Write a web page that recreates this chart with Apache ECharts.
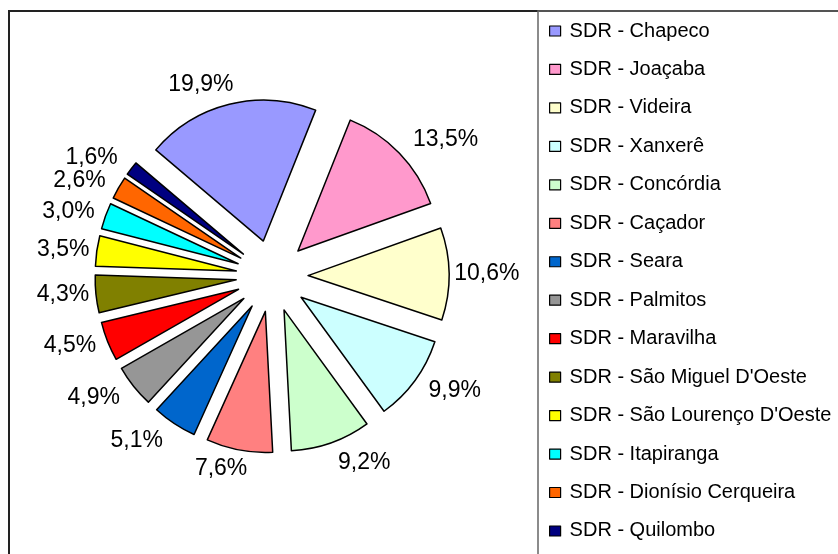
<!DOCTYPE html>
<html>
<head>
<meta charset="utf-8">
<script src="https://cdn.jsdelivr.net/npm/echarts@6/dist/echarts.min.js"></script>
<style>
  html, body { margin: 0; padding: 0; background: #fff; }
  #chart { width: 838px; height: 554px; }
</style>
</head>
<body>
<div id="chart"></div>
<script>
const categories = ['SDR - Chapeco', 'SDR - Joaçaba', 'SDR - Videira', 'SDR - Xanxerê', 'SDR - Concórdia',
  'SDR - Caçador', 'SDR - Seara', 'SDR - Palmitos', 'SDR - Maravilha', 'SDR - São Miguel D\'Oeste',
  'SDR - São Lourenço D\'Oeste', 'SDR - Itapiranga', 'SDR - Dionísio Cerqueira', 'SDR - Quilombo']
const shares = [19.9, 13.5, 10.6, 9.9, 9.2, 7.6, 5.1, 4.9, 4.5, 4.3, 3.5, 3.0, 2.6, 1.6]
const sliceColors = ['#9999ff', '#ff99cc', '#ffffcc', '#ccffff', '#ccffcc', '#ff8080', '#0066cc',
  '#969696', '#ff0000', '#808000', '#ffff00', '#00ffff', '#ff6600', '#000080']

const cx = 272
const cy = 276
const radius = 141
const explode = 36
const firstAngle = -49.7 // degrees clockwise from 12 o'clock
const total = shares.reduce((a, b) => a + b, 0)

const fontFamily = 'Liberation Sans, Arial, sans-serif'

// one pie series per slice so every slice can be pulled out and labelled
const series = []
let acc = 0
shares.forEach((v, i) => {
  const a0 = firstAngle + acc / total * 360
  acc += v
  const a1 = firstAngle + acc / total * 360
  const mid = (a0 + a1) / 2 * Math.PI / 180
  const ux = Math.sin(mid)
  const uy = -Math.cos(mid)
  series.push({
    type: 'pie',
    name: categories[i],
    center: [cx + ux * explode, cy + uy * explode],
    radius: radius,
    startAngle: 90 - a0,
    endAngle: 90 - a1,
    clockwise: true,
    avoidLabelOverlap: false,
    itemStyle: { color: sliceColors[i], borderColor: '#000', borderWidth: 1.5 },
    emphasis: { disabled: true },
    label: {
      show: true,
      position: 'outside',
      fontFamily: fontFamily,
      fontSize: 23,
      color: '#000',
      formatter: (p) => p.value.toFixed(1).replace('.', ',') + '%'
    },
    labelLine: { show: false },
    // label anchored just outside the slice, text pushed outward sideways
    labelLayout: (params) => {
      const w = params.labelRect.width / 2
      const d = radius + explode + 5 + 12 * uy * uy + 16 * Math.abs(ux * uy)
      const side = Math.max(-1, Math.min(1, 3 * ux))
      return { x: cx + ux * d + side * w, y: cy + uy * d, align: 'center', verticalAlign: 'middle' }
    },
    data: [{ name: categories[i], value: v }]
  })
})

const chart = echarts.init(document.getElementById('chart'))
const option = {
  animation: false,
  backgroundColor: '#fff',
  graphic: [
    {
      type: 'rect',
      shape: { x: 9, y: 11, width: 900, height: 600 },
      style: { fill: 'none', stroke: '#222', lineWidth: 2 }
    },
    {
      type: 'rect',
      shape: { x: 538, y: 11, width: 400, height: 600 },
      style: { fill: 'none', stroke: '#666', lineWidth: 1.5 }
    }
  ],
  legend: {
    orient: 'vertical',
    left: 544,
    top: 16,
    itemWidth: 11,
    itemHeight: 10,
    itemGap: 18.46,
    icon: 'rect',
    itemStyle: { borderColor: '#000', borderWidth: 1.2 },
    textStyle: {
      fontFamily: fontFamily,
      fontSize: 20,
      lineHeight: 20,
      color: '#000',
      padding: [0, 0, 0, 4]
    },
    data: categories
  },
  series: series
}
chart.setOption(option)
</script>
</body>
</html>
